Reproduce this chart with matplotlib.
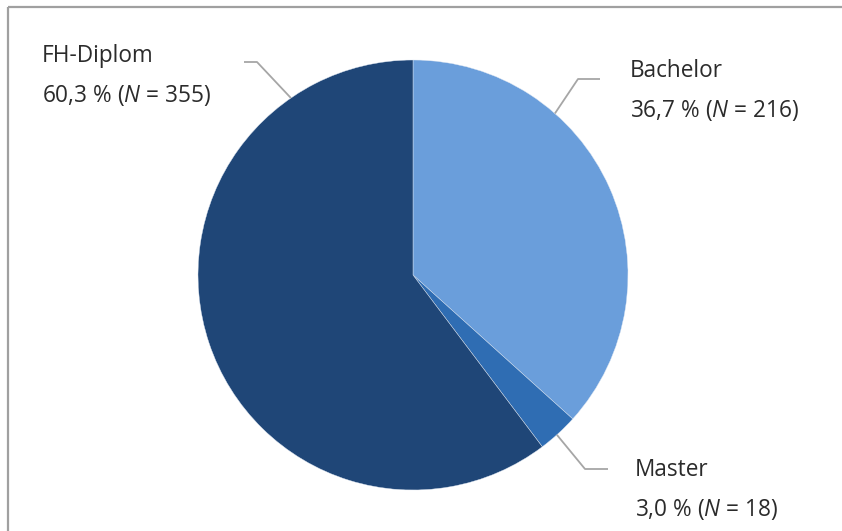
import numpy as np
import matplotlib
matplotlib.use("Agg")
import matplotlib.pyplot as plt

# Degree types of graduates
categories = ["Bachelor", "Master", "FH-Diplom"]
counts = [216, 18, 355]
shares = ["36,7", "3,0", "60,3"]
colors = ["#6A9EDB", "#2F6DB3", "#1F4677"]

plt.rcParams["font.family"] = ["Open Sans", "DejaVu Sans"]
plt.rcParams["mathtext.fontset"] = "custom"
plt.rcParams["mathtext.it"] = "Open Sans:italic"
plt.rcParams["mathtext.rm"] = "Open Sans"

W, H = 842, 531
fig = plt.figure(figsize=(W / 100, H / 100), dpi=100)
ax = fig.add_axes([0, 0, 1, 1])

cx, cy, r = 413, H - 275, 215
ax.pie(counts, colors=colors, startangle=90, counterclock=False,
       center=(cx, cy), radius=r, frame=True,
       wedgeprops=dict(edgecolor="#DDE6F2", linewidth=0.3))
ax.set_xlim(0, W)
ax.set_ylim(0, H)
ax.set_aspect("equal")
ax.axis("off")

# Leader lines and labels (anchor angle on rim, elbow, end, text x, first baseline)
layout = {
    "Bachelor": dict(ang=48.7, elbow=(578, 79), end=(600, 79), tx=630, ty=77),
    "Master": dict(ang=-48.0, elbow=(585, 469), end=(608, 469), tx=635, ty=476),
    "FH-Diplom": dict(ang=124.6, elbow=(257, 62), end=(244, 62), tx=42, ty=62),
}
line_col = "#A6A6A6"
fs = 16.3
for cat, n, s in zip(categories, counts, shares):
    L = layout[cat]
    a = np.deg2rad(L["ang"])
    x0, y0 = cx + r * np.cos(a), cy + r * np.sin(a)
    ex, ey = L["elbow"]
    fx, fy = L["end"]
    ax.plot([x0, ex, fx], [y0, H - ey, H - fy], color=line_col, lw=1.3,
            solid_capstyle="butt", zorder=3)
    ax.text(L["tx"], H - L["ty"], cat, fontsize=fs, color="#2B2B2B",
            ha="left", va="baseline")
    ax.text(L["tx"], H - L["ty"] - 40, f"{s} % ($\\mathit{{N}}$ = {n})",
            fontsize=fs, color="#2B2B2B", ha="left", va="baseline")

# Chart area frame (top and left edges visible)
frame_col = "#A0A0A0"
ax.plot([7.5, W], [H - 6.5, H - 6.5], color=frame_col, lw=1.6, solid_capstyle="butt")
ax.plot([7.5, 7.5], [H - 6.5, 0], color=frame_col, lw=1.6, solid_capstyle="butt")

fig.savefig("out.png", dpi=100, facecolor="white")
